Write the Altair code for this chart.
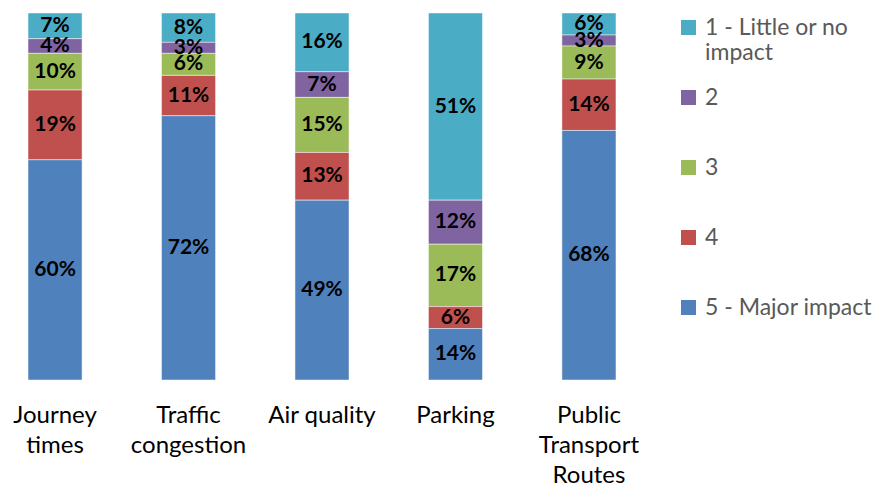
import altair as alt
import pandas as pd

categories = ["Journey|times", "Traffic|congestion", "Air quality", "Parking", "Public|Transport|Routes"]
levels = ["1 - Little or no impact", "2", "3", "4", "5 - Major impact"]
colors = ["#4BACC6", "#8064A2", "#9BBB59", "#C0504D", "#4F81BD"]

# values per level, in category order
v1 = [7, 8, 16, 51, 6]
v2 = [4, 3, 7, 12, 3]
v3 = [10, 6, 15, 17, 9]
v4 = [19, 11, 13, 6, 14]
v5 = [60, 72, 49, 14, 68]

series = [v1, v2, v3, v4, v5]
rows = []
for li, (lev, vals) in enumerate(zip(levels, series)):
    for c, v in zip(categories, vals):
        rows.append({"cat": c, "level": lev, "value": v, "ord": 5 - li})
df = pd.DataFrame(rows)

base = alt.Chart(df).transform_stack(
    stack="value", groupby=["cat"], as_=["y0", "y1"],
    sort=[alt.SortField("ord", order="ascending")]
).transform_calculate(
    ymid="(datum.y0 + datum.y1) / 2",
    lab="datum.value + '%'"
)

x = alt.X("cat:N", sort=categories, title=None,
          scale=alt.Scale(paddingInner=0.595, paddingOuter=0.15),
          axis=alt.Axis(labelExpr="split(datum.label, '|')", labelAngle=0,
                        labelFont="Lato", labelFontSize=24, labelColor="#000000",
                        labelLineHeight=30, labelPadding=23, ticks=False,
                        domain=False, labelBaseline="top"))
yscale = alt.Scale(domain=[0, 100])

bars = base.mark_bar(stroke="white", strokeWidth=0.8, strokeOpacity=0.6).encode(
    x=x,
    y=alt.Y("y0:Q", scale=yscale, axis=None),
    y2="y1:Q",
    color=alt.Color("level:N", scale=alt.Scale(domain=levels, range=colors),
                    legend=alt.Legend(title=None, orient="none", legendX=669, legendY=3,
                                      symbolType="square", symbolSize=225,
                                      symbolStrokeWidth=0,
                                      labelFont="Lato", labelFontSize=23,
                                      labelColor="#595959", labelLimit=300,
                                      labelOffset=5, rowPadding=21,
                                      labelExpr="datum.label == '1 - Little or no impact' ? ['1 - Little or no', 'impact'] : [datum.label, '']")),
)

text = base.mark_text(font="Lato", fontSize=21, fontWeight="bold", color="black").encode(
    x=alt.X("cat:N", sort=categories),
    y=alt.Y("ymid:Q", scale=yscale),
    text="lab:N",
)

chart = alt.layer(bars, text).properties(
    width=628, height=367,
    padding={"left": 0, "top": 4, "right": 0, "bottom": 0}
).configure_view(stroke=None)

chart.save("out.html", embed_options={"renderer": "svg", "actions": False})
